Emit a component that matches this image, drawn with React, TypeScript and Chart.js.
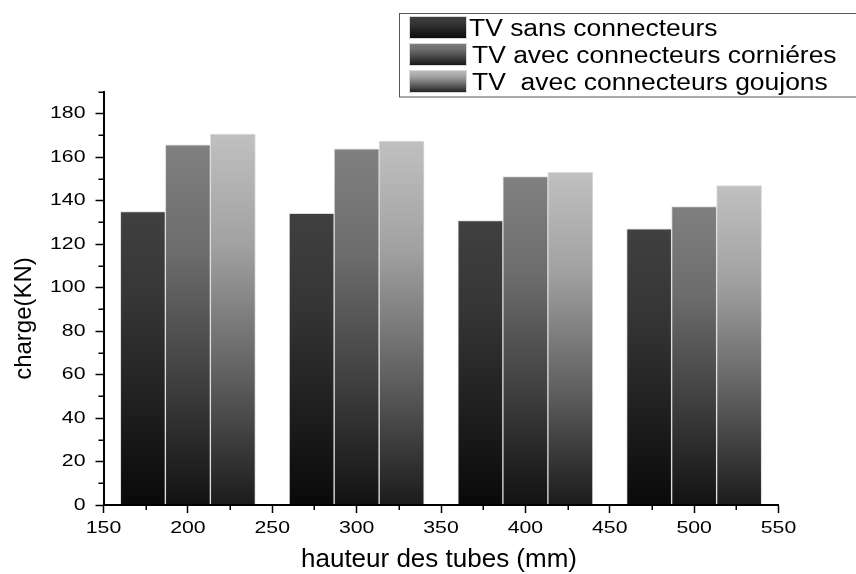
import React, { useEffect, useRef } from "react";
import { Chart, registerables } from "chart.js";

Chart.register(...registerables);

// ---- data ----
const hauteurs = [200, 300, 400, 500]; // hauteur des tubes (mm), group centres
const seriesLabels = [
  "TV sans connecteurs",
  "TV avec connecteurs corniéres",
  "TV  avec connecteurs goujons",
];
const sansConnecteurs = [135.0, 134.2, 130.8, 127.1];
const avecCornieres = [165.7, 163.9, 151.1, 137.3];
const avecGoujons = [170.6, 167.4, 153.0, 147.0];
const seriesValues = [sansConnecteurs, avecCornieres, avecGoujons];
const xTitle = "hauteur des tubes (mm)";
const yTitle = "charge(KN)";

// ---- style ----
const topGrays = [64, 128, 192];
const groupWidth = 80;
const FONT = '"Liberation Sans", Arial, sans-serif';
const TICK_STRETCH = 1.25;

function barGradient(ctx: CanvasRenderingContext2D, top: number, bottom: number, g: number) {
  if (!isFinite(top) || !isFinite(bottom) || top === bottom) return `rgb(${g},${g},${g})`;
  const grad = ctx.createLinearGradient(0, top, 0, bottom);
  const c = (f: number) => {
    const v = Math.round(g * f);
    return `rgb(${v},${v},${v})`;
  };
  grad.addColorStop(0, c(1));
  grad.addColorStop(0.3, c(0.84));
  grad.addColorStop(0.65, c(0.5));
  grad.addColorStop(1, c(0.14));
  return grad;
}

const decorPlugin = {
  id: "decor",
  afterDatasetsDraw(chart: any) {
    // tick labels of the reference are horizontally stretched
    const ctx = chart.ctx as any;
    const orig = CanvasRenderingContext2D.prototype.fillText;
    ctx.fillText = function (t: string, x: number, y: number) {
      this.save();
      this.translate(x, y);
      this.scale(TICK_STRETCH, 1);
      orig.call(this, t, 0, 0);
      this.restore();
    };
  },
  afterDraw(chart: any) {
    const ctx = chart.ctx as CanvasRenderingContext2D;
    delete (ctx as any).fillText;
    const xs = chart.scales.x;
    const ys = chart.scales.y;
    const area = chart.chartArea;
    ctx.save();

    // minor ticks
    ctx.strokeStyle = "#000";
    ctx.lineWidth = 1.5;
    ctx.beginPath();
    for (let v = 175; v < 550; v += 50) {
      const px = Math.round(xs.getPixelForValue(v)) + 0.25;
      ctx.moveTo(px, area.bottom);
      ctx.lineTo(px, area.bottom + 5);
    }
    for (let v = 10; v <= 190; v += 20) {
      const py = Math.round(ys.getPixelForValue(v)) + 0.25;
      ctx.moveTo(area.left, py);
      ctx.lineTo(area.left - 5, py);
    }
    ctx.stroke();

    // axis titles
    ctx.fillStyle = "#000";
    ctx.textAlign = "center";
    ctx.textBaseline = "alphabetic";
    ctx.font = `26px ${FONT}`;
    ctx.fillText(xTitle, (area.left + area.right) / 2 - 2, area.bottom + 62);
    ctx.save();
    ctx.translate(31, (area.top + area.bottom) / 2 + 20);
    ctx.rotate(-Math.PI / 2);
    ctx.font = `24px ${FONT}`;
    ctx.fillText(yTitle, 0, 0);
    ctx.restore();

    // legend
    ctx.strokeStyle = "#555";
    ctx.lineWidth = 1;
    ctx.strokeRect(399.5, 13.5, 470, 83.5);
    const rowTops = [16, 43, 70];
    const baselines = [36, 62.5, 89.5];
    const textX = [469, 472, 472];
    ctx.font = `23px ${FONT}`;
    ctx.textAlign = "left";
    for (let i = 0; i < seriesLabels.length; i++) {
      const t = rowTops[i];
      ctx.fillStyle = barGradient(ctx, t, t + 23, topGrays[i]);
      ctx.fillRect(409, t, 58, 23);
      ctx.strokeStyle = "#d8d8d8";
      ctx.strokeRect(409.5, t + 0.5, 57, 22);
      ctx.fillStyle = "#000";
      ctx.save();
      ctx.scale(1.15, 1);
      ctx.fillText(seriesLabels[i], textX[i] / 1.15, baselines[i]);
      ctx.restore();
    }
    ctx.restore();
  },
};

export default function App() {
  const canvasRef = useRef<HTMLCanvasElement | null>(null);

  useEffect(() => {
    document.body.style.margin = "0";
    const canvas = canvasRef.current;
    if (!canvas) return;

    const datasets = seriesValues.map((vals, i) => ({
      label: seriesLabels[i],
      data: vals.map((v, g) => ({ x: hauteurs[g] + (i - 1) * (groupWidth / 3), y: v })),
      backgroundColor: (c: any) => {
        const chart = c.chart;
        const ys = chart.scales && chart.scales.y;
        const g = topGrays[i];
        if (!ys || c.type !== "data" || !c.parsed) return `rgb(${g},${g},${g})`;
        return barGradient(chart.ctx, ys.getPixelForValue(c.parsed.y), ys.getPixelForValue(0), g);
      },
      borderColor: "#dcdcdc",
      borderWidth: 1,
      borderSkipped: "start",
      grouped: false,
      barPercentage: 1,
      categoryPercentage: 1,
    }));

    const chart = new Chart(canvas, {
      type: "bar",
      data: { datasets },
      plugins: [decorPlugin],
      options: {
        animation: false,
        responsive: true,
        maintainAspectRatio: false,
        layout: { padding: { left: 8, top: 92, right: 77.5, bottom: 0 } },
        plugins: { legend: { display: false }, tooltip: { enabled: false } },
        scales: {
          x: {
            type: "linear",
            min: 150,
            max: 550,
            offset: false,
            grid: {
              display: true,
              offset: false,
              drawOnChartArea: false,
              drawTicks: true,
              tickLength: 8,
              tickWidth: 1.5,
              tickColor: "#000",
            },
            border: { display: true, color: "#000", width: 2, z: 1 },
            ticks: {
              stepSize: 50,
              color: "#000",
              padding: 5,
              z: 1,
              maxRotation: 0,
              font: { family: FONT, size: 17 },
            },
            afterFit: (scale: any) => {
              scale.height = 69;
            },
          },
          y: {
            type: "linear",
            min: 0,
            max: 190,
            grid: {
              display: true,
              drawOnChartArea: false,
              drawTicks: true,
              tickLength: 8,
              tickWidth: 1.5,
              tickColor: "#000",
            },
            border: { display: true, color: "#000", width: 2, z: 1 },
            ticks: {
              stepSize: 20,
              includeBounds: false,
              color: "#000",
              padding: 10,
              z: 1,
              font: { family: FONT, size: 17 },
            },
            afterFit: (scale: any) => {
              scale.width = 95.5;
            },
          },
        },
      } as any,
    });

    return () => {
      chart.destroy();
    };
  }, []);

  return (
    <div style={{ position: "relative", width: 856, height: 574 }}>
      <canvas ref={canvasRef} />
    </div>
  );
}
